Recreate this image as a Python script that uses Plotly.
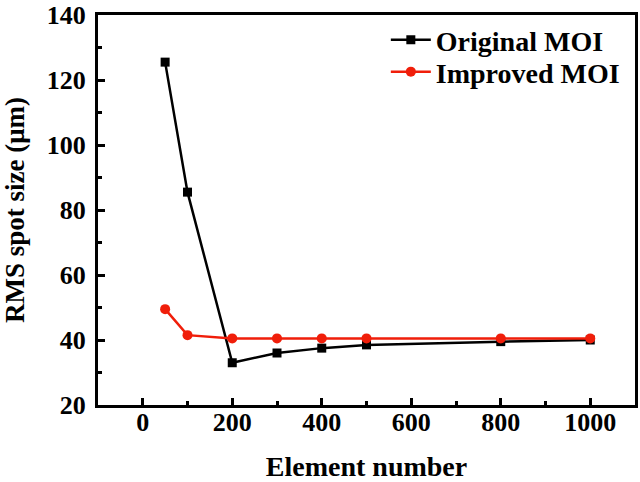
import plotly.graph_objects as go

elements = [50, 100, 200, 300, 400, 500, 800, 1000]
original_moi = [125.5, 85.5, 33.0, 36.0, 37.5, 38.5, 39.5, 40.0]
improved_moi = [49.5, 41.5, 40.5, 40.5, 40.5, 40.5, 40.5, 40.5]
x_ticks = [0, 200, 400, 600, 800, 1000]
x_minor = [100, 300, 500, 700, 900]
y_ticks = [20, 40, 60, 80, 100, 120, 140]
y_minor = [30, 50, 70, 90, 110, 130]

FONT = "Liberation Serif"

fig = go.Figure()
fig.add_trace(go.Scatter(x=elements, y=original_moi, name="<b>Original MOI</b>",
                         mode="lines+markers", legend="legend",
                         line=dict(color="black", width=2.5),
                         marker=dict(symbol="square", size=9, color="black")))
fig.add_trace(go.Scatter(x=elements, y=improved_moi, name="<b>Improved MOI</b>",
                         mode="lines+markers", legend="legend2",
                         line=dict(color="#f01e0a", width=2.5),
                         marker=dict(symbol="circle", size=10, color="#f01e0a")))

axis_common = dict(showline=True, linewidth=3, linecolor="black", mirror=True,
                   ticks="inside", ticklen=7, tickwidth=2.5, tickcolor="black",
                   showgrid=False, zeroline=False, automargin=False,
                   ticklabeloverflow="allow",
                   tickfont=dict(family=FONT, size=26, color="black"))

fig.update_xaxes(range=[-100, 1100], tickvals=x_ticks,
                 ticktext=[f"<b>{v}</b>" for v in x_ticks],
                 ticklabelstandoff=-8,
                 minor=dict(tickvals=x_minor, ticks="inside",
                            ticklen=4, tickwidth=2.5, tickcolor="black"),
                 title=dict(text="<b>Element number</b>", standoff=22,
                            font=dict(family=FONT, size=28, color="black")),
                 **axis_common)
fig.update_yaxes(range=[20, 140], tickvals=y_ticks,
                 ticktext=[f"<b>{v}</b>" for v in y_ticks],
                 ticklabelstandoff=4,
                 minor=dict(tickvals=y_minor, ticks="inside",
                            ticklen=4, tickwidth=2.5, tickcolor="black"),
                 title=dict(text="<b>RMS spot size (μm)</b>", standoff=20,
                            font=dict(family=FONT, size=27, color="black")),
                 **axis_common)

legend_common = dict(xanchor="left", yanchor="middle",
                     font=dict(family=FONT, size=28, color="black"),
                     bgcolor="rgba(0,0,0,0)", itemwidth=40, borderwidth=0)

fig.update_layout(
    width=640, height=482,
    margin=dict(l=98, r=5, t=15, b=77),
    plot_bgcolor="white", paper_bgcolor="white",
    legend=dict(x=0.536, y=0.936, **legend_common),
    legend2=dict(x=0.536, y=0.854, **legend_common),
    showlegend=True,
)

fig.write_html("out.html", config={"displayModeBar": False},
               post_script="document.body.style.margin='0';")
